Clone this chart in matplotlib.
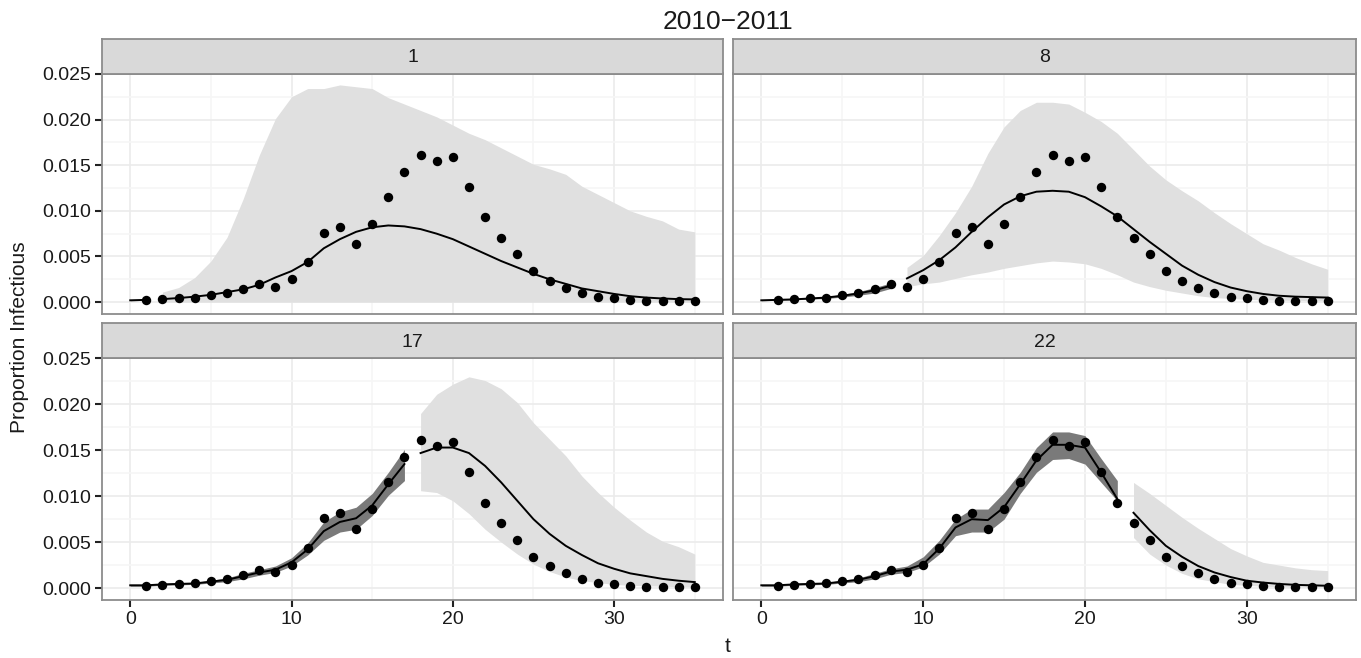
import numpy as np
import matplotlib
matplotlib.use("Agg")
import matplotlib.pyplot as plt

plt.rcParams["font.family"] = ["Liberation Sans", "DejaVu Sans"]

# observed proportion infectious, weeks 1..35
obs_t = list(range(1, 36))
obs = [0.0002, 0.00036, 0.0004, 0.0005, 0.00076, 0.001, 0.0014, 0.00195, 0.0017, 0.0025,
       0.0044, 0.0076, 0.0082, 0.0064, 0.0086, 0.01156, 0.01427, 0.0161, 0.01546, 0.01586,
       0.01264, 0.00929, 0.00708, 0.00527, 0.00336, 0.00235, 0.00159, 0.001, 0.00058, 0.0004,
       0.0002, 0.0001, 0.00007, 0.00007, 0.00007]

panels = ["1", "8", "17", "22"]

# panel 1: fit t=0..1, forecast t=2..35
p1_fit_mid = [0.0002, 0.00025]
p1_fit_lo = [0.00015, 0.0002]
p1_fit_hi = [0.00025, 0.0003]
p1_fc_mid = [0.00033, 0.00045, 0.0006, 0.0008, 0.0011, 0.0014, 0.0019, 0.0027, 0.0034, 0.0044,
             0.0059, 0.0069, 0.0077, 0.0082, 0.0084, 0.0083, 0.008, 0.0075, 0.0069, 0.0061,
             0.0053, 0.0045, 0.0038, 0.0031, 0.0025, 0.002, 0.0015, 0.0012, 0.0009, 0.00065,
             0.0005, 0.0004, 0.00033, 0.0003]
p1_fc_lo = [0.0] * 34
p1_fc_hi = [0.0011, 0.0016, 0.0027, 0.0045, 0.0071, 0.0113, 0.0161, 0.0201, 0.0225, 0.0234,
            0.0234, 0.0238, 0.0236, 0.0234, 0.0224, 0.0217, 0.021, 0.0203, 0.0194, 0.0185,
            0.0178, 0.0169, 0.016, 0.0151, 0.0146, 0.014, 0.0127, 0.0118, 0.0109, 0.01,
            0.0094, 0.0089, 0.008, 0.0077]

# panel 8: fit t=0..8, forecast t=9..35
p8_fit_mid = [0.0002, 0.00025, 0.0003, 0.0004, 0.0005, 0.0007, 0.00095, 0.0013, 0.0018]
p8_fit_lo = [0.00015, 0.0002, 0.00025, 0.00033, 0.0004, 0.00055, 0.00075, 0.001, 0.0015]
p8_fit_hi = [0.00025, 0.0003, 0.00037, 0.00048, 0.0006, 0.00085, 0.00115, 0.0016, 0.0021]
p8_fc_mid = [0.0026, 0.0035, 0.0046, 0.006, 0.0077, 0.0093, 0.0107, 0.0116, 0.0121, 0.0122,
             0.0121, 0.0115, 0.0105, 0.0094, 0.008, 0.0066, 0.0053, 0.004, 0.003, 0.0022,
             0.0016, 0.0012, 0.0009, 0.0007, 0.0006, 0.00055, 0.0005]
p8_fc_lo = [0.0017, 0.002, 0.0022, 0.0026, 0.003, 0.0033, 0.0037, 0.004, 0.0043, 0.0045,
            0.0044, 0.0042, 0.0037, 0.003, 0.0022, 0.0017, 0.0013, 0.001, 0.0007, 0.0005,
            0.0004, 0.0003, 0.00025, 0.0002, 0.0002, 0.00015, 0.00015]
p8_fc_hi = [0.0038, 0.0051, 0.0073, 0.0098, 0.0127, 0.0163, 0.0192, 0.021, 0.0219, 0.0219,
            0.0217, 0.0208, 0.0198, 0.0185, 0.0167, 0.0149, 0.0134, 0.0122, 0.0111, 0.0098,
            0.0086, 0.0075, 0.0064, 0.0057, 0.0049, 0.0042, 0.0036]

# panel 17: fit t=0..17, forecast t=18..35
p17_fit_mid = [0.0003, 0.0003, 0.0004, 0.00045, 0.0005, 0.0007, 0.0009, 0.0013, 0.0017, 0.002,
               0.0028, 0.0042, 0.0062, 0.0072, 0.0076, 0.009, 0.0113, 0.0135]
p17_fit_lo = [0.0002, 0.0002, 0.0003, 0.00035, 0.0004, 0.00055, 0.0007, 0.001, 0.0014, 0.0017,
              0.0024, 0.0036, 0.0052, 0.0061, 0.0064, 0.0079, 0.0101, 0.0117]
p17_fit_hi = [0.0004, 0.0004, 0.0005, 0.00055, 0.0006, 0.00085, 0.0011, 0.0016, 0.002, 0.0024,
              0.0033, 0.0049, 0.0072, 0.0083, 0.0088, 0.0103, 0.0126, 0.0151]
p17_fc_mid = [0.0147, 0.0153, 0.0153, 0.0147, 0.0133, 0.0115, 0.0095, 0.0075, 0.0059, 0.0046,
              0.0036, 0.0027, 0.0021, 0.0016, 0.0013, 0.001, 0.0008, 0.00065]
p17_fc_lo = [0.0106, 0.0104, 0.0095, 0.0081, 0.0064, 0.005, 0.0037, 0.0026, 0.0018, 0.0012,
             0.0008, 0.0006, 0.0004, 0.0003, 0.00025, 0.0002, 0.00015, 0.0001]
p17_fc_hi = [0.019, 0.0211, 0.0222, 0.023, 0.0226, 0.0217, 0.0202, 0.018, 0.0162, 0.0144,
             0.0122, 0.0104, 0.0088, 0.0074, 0.0061, 0.0051, 0.0045, 0.0037]

# panel 22: fit t=0..22, forecast t=23..35
p22_fit_mid = [0.0003, 0.0003, 0.0004, 0.00045, 0.0005, 0.0007, 0.0009, 0.0013, 0.0018, 0.002,
               0.0026, 0.0043, 0.0066, 0.0075, 0.0074, 0.0088, 0.0113, 0.0139, 0.0156, 0.0156,
               0.0153, 0.0126, 0.0097]
p22_fit_lo = [0.0002, 0.0002, 0.0003, 0.00035, 0.0004, 0.00055, 0.0007, 0.001, 0.0015, 0.0017,
              0.0023, 0.0037, 0.0057, 0.0061, 0.0061, 0.0075, 0.0103, 0.0126, 0.014, 0.0141,
              0.0135, 0.0115, 0.0095]
p22_fit_hi = [0.0004, 0.0004, 0.0005, 0.00055, 0.0006, 0.00085, 0.0011, 0.0016, 0.0021, 0.0024,
              0.0034, 0.0052, 0.0075, 0.0086, 0.0086, 0.0104, 0.0126, 0.0153, 0.017, 0.017,
              0.0166, 0.0141, 0.0117]
p22_fc_mid = [0.0082, 0.0063, 0.0046, 0.0034, 0.0024, 0.0017, 0.0012, 0.0008, 0.0006, 0.00045,
              0.00035, 0.0003, 0.00025]
p22_fc_lo = [0.0055, 0.0037, 0.0025, 0.0016, 0.001, 0.0007, 0.0004, 0.0003, 0.0002, 0.00015,
             0.0001, 0.0001, 0.0001]
p22_fc_hi = [0.0115, 0.0103, 0.009, 0.0077, 0.0065, 0.0054, 0.0043, 0.0035, 0.0028, 0.0025,
             0.0022, 0.002, 0.0019]

fits = {
    "1": (p1_fit_mid, p1_fit_lo, p1_fit_hi, p1_fc_mid, p1_fc_lo, p1_fc_hi),
    "8": (p8_fit_mid, p8_fit_lo, p8_fit_hi, p8_fc_mid, p8_fc_lo, p8_fc_hi),
    "17": (p17_fit_mid, p17_fit_lo, p17_fit_hi, p17_fc_mid, p17_fc_lo, p17_fc_hi),
    "22": (p22_fit_mid, p22_fit_lo, p22_fit_hi, p22_fc_mid, p22_fc_lo, p22_fc_hi),
}

W, H = 1361, 658
fig = plt.figure(figsize=(W / 100, H / 100), dpi=100)

cols = [(102, 723), (733, 1356)]
rows = [(73.5, 314), (358, 600)]
strip_h = 35
border = "#8c8c8c"

for i, name in enumerate(panels):
    r, c = divmod(i, 2)
    x0, x1 = cols[c]
    y0, y1 = rows[r]
    ax = fig.add_axes([x0 / W, 1 - y1 / H, (x1 - x0) / W, (y1 - y0) / H])
    fit_mid, fit_lo, fit_hi, fc_mid, fc_lo, fc_hi = fits[name]
    tf = np.arange(len(fit_mid))
    tc = np.arange(len(fit_mid), len(fit_mid) + len(fc_mid))

    ax.fill_between(tc, fc_lo, fc_hi, color="#e0e0e0", lw=0, zorder=2)
    ax.fill_between(tf, fit_lo, fit_hi, color="#7a7a7a", lw=0, zorder=2)
    ax.plot(tf, fit_mid, color="black", lw=1.4, zorder=3)
    ax.plot(tc, fc_mid, color="black", lw=1.4, zorder=3)
    ax.scatter(obs_t, obs, s=46, color="black", lw=0, zorder=4)

    ax.set_xlim(-1.75, 36.75)
    ax.set_ylim(-0.0013, 0.02505)
    ax.set_xticks([0, 10, 20, 30])
    ax.set_xticks([5, 15, 25, 35], minor=True)
    ax.set_yticks([0, 0.005, 0.01, 0.015, 0.02, 0.025])
    ax.set_yticks([0.0025, 0.0075, 0.0125, 0.0175, 0.0225], minor=True)
    ax.grid(which="major", color="#ebebeb", lw=1.2, zorder=0)
    ax.grid(which="minor", color="#f6f6f6", lw=1.2, zorder=0)
    ax.set_axisbelow(True)
    for s in ax.spines.values():
        s.set_color(border)
        s.set_linewidth(1.3)
        s.set_zorder(5)

    ax.tick_params(which="minor", length=0)
    ax.tick_params(which="major", length=5, width=1.5, color="#222222",
                   labelsize=14, labelcolor="#1a1a1a", pad=3)
    if c == 0:
        ax.set_yticklabels(["0.000", "0.005", "0.010", "0.015", "0.020", "0.025"])
    else:
        ax.tick_params(axis="y", length=0, labelleft=False)
    if r == 1:
        ax.set_xticklabels(["0", "10", "20", "30"])
    else:
        ax.tick_params(axis="x", length=0, labelbottom=False)

    sax = fig.add_axes([x0 / W, 1 - y0 / H, (x1 - x0) / W, strip_h / H])
    sax.set_facecolor("#d9d9d9")
    sax.set_xticks([])
    sax.set_yticks([])
    for s in sax.spines.values():
        s.set_color(border)
        s.set_linewidth(1.3)
    sax.text(0.5, 0.45, name, ha="center", va="center", fontsize=14,
             color="#1a1a1a", transform=sax.transAxes)

fig.text(728 / W, 1 - 22 / H, "2010\u22122011", ha="center", va="center",
         fontsize=19, color="#1a1a1a")
fig.text(728 / W, 1 - 647 / H, "t", ha="center", va="center", fontsize=15,
         color="#1a1a1a")
fig.text(20 / W, 1 - 337 / H, "Proportion Infectious", ha="center", va="center",
         rotation=90, fontsize=15, color="#1a1a1a")

fig.savefig("out.png", dpi=100)
